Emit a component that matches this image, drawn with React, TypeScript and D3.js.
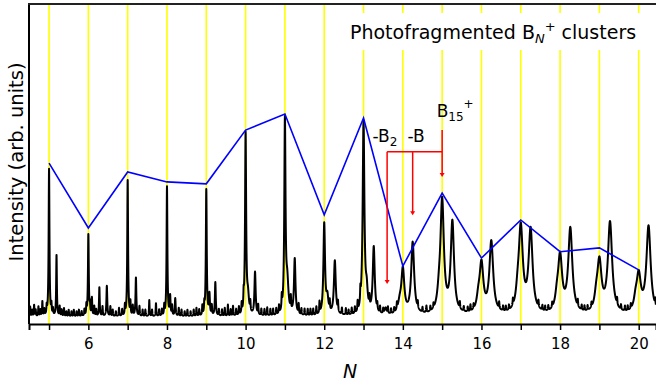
import React, { useRef, useEffect } from "react";
import * as d3 from "d3";

// cluster size axis
const clusterSizes = [5, 6, 7, 8, 9, 10, 11, 12, 13, 14, 15, 16, 17, 18, 19, 20];
const tickLabels = [6, 8, 10, 12, 14, 16, 18, 20];

// envelope of the photofragmented cluster intensities (blue)
const envelope = [50.3, 30, 47.5, 44.4, 43.8, 60.6, 65.6, 34.1, 64.4, 18.1, 40.9, 20.6, 32.5, 22.6, 23.8, 16.9];

// spectrum peaks: position (N), height above baseline, half width
const peakN = [
  5, 6, 7, 8, 9, 10, 11, 12, 13, 14, 15, 16, 17, 18, 19, 20,
  5.19, 6.09, 6.28, 6.47, 7.21, 8.08, 8.21, 9.08, 9.23, 10.06, 10.24, 11.06, 11.25,
  12.08, 12.27, 13.08, 13.26, 13.56, 14.25, 15.26, 16.25, 17.25, 18.26, 19.27, 20.25,
  13.92, 14.92, 15.92, 16.92, 17.92, 18.92, 19.92,
];
const peakH = [
  46, 25.5, 42.5, 40.5, 39.5, 56.5, 60, 28.5, 60, 13.8, 35, 15.2, 26.5, 17.4, 15.8, 11.6,
  19, 5.5, 9, 9.5, 12, 6, 5.5, 6.5, 10.5, 5.5, 13.5, 9.5, 17.5,
  5, 17, 6, 21, 2, 22.5, 28.5, 22.5, 26, 26.5, 28.5, 27.5,
  3, 4, 3.5, 4, 3.5, 3.5, 3,
];
const peakW = [
  0.012, 0.012, 0.012, 0.012, 0.013, 0.016, 0.018, 0.024, 0.026, 0.045, 0.052, 0.058, 0.062, 0.062, 0.065, 0.065,
  0.01, 0.01, 0.01, 0.012, 0.012, 0.012, 0.012, 0.014, 0.013, 0.03, 0.018, 0.035, 0.022,
  0.03, 0.028, 0.03, 0.03, 0.03, 0.045, 0.05, 0.058, 0.06, 0.062, 0.065, 0.065,
  0.05, 0.05, 0.05, 0.05, 0.05, 0.05, 0.05,
];

// baseline noise spikes: position, height
const noiseN = [
  4.52, 4.57, 4.62, 4.66, 4.73, 4.78, 4.83, 4.88, 4.94, 5.06, 5.1, 5.27, 5.32, 5.38, 5.44, 5.5, 5.57, 5.63,
  5.7, 5.76, 5.83, 5.9, 5.95, 6.04, 6.15, 6.2, 6.36, 6.56, 6.62, 6.7, 6.78, 6.86, 6.93, 7.07, 7.13, 7.3,
  7.38, 7.45, 7.55, 7.62, 7.72, 7.8, 7.87, 7.93, 8.13, 8.3, 8.37, 8.45, 8.52, 8.6, 8.68, 8.75, 8.82, 8.9,
  8.95, 9.14, 9.32, 9.4, 9.47, 9.55, 9.62, 9.68, 9.76, 9.83, 9.9, 9.95, 10.12, 10.32, 10.4, 10.48, 10.55,
  10.63, 10.7, 10.78, 10.85, 10.92, 11.15, 11.35, 11.42, 11.5, 11.58, 11.65, 11.72, 11.8, 11.88, 12.14,
  12.35, 12.45, 12.55, 12.62, 12.7, 12.78, 12.85, 12.92, 13.15, 13.35, 13.42, 13.5, 13.62, 13.7, 13.78,
  13.85, 14.38, 14.5, 14.6, 14.7, 14.78, 15.45, 15.55, 15.65, 15.72, 15.8, 16.45, 16.55, 16.62, 16.7,
  16.8, 17.45, 17.55, 17.62, 17.7, 17.8, 18.45, 18.55, 18.62, 18.7, 18.8, 19.45, 19.55, 19.65, 19.72,
  19.8, 20.42,
];
const noiseH = [
  3, 2, 3.5, 2, 3, 2, 4.5, 2, 2.5, 3, 2, 3, 2, 2.5, 1.5, 2, 1.5, 2,
  1.5, 2, 1.5, 2, 3, 3, 3, 2, 3, 3, 2, 1.5, 2.5, 2, 3, 4, 3, 3,
  2, 2, 5, 2, 4, 2, 2, 3, 3, 2.5, 2, 1.5, 2, 1.5, 2, 2.5, 2, 3,
  3, 3, 2, 2, 2.5, 3.5, 2, 3, 2, 2.5, 3, 4, 3, 3, 2, 2, 2.5,
  2, 2, 2, 2.5, 4, 4, 3, 2, 2, 2, 2, 2, 2.5, 3.5, 3,
  3, 2, 2, 1.5, 2, 2, 3, 4, 3, 2, 2, 1.5, 2, 1.5, 1.5,
  2, 2, 1.5, 2, 1.5, 1.5, 2, 1.5, 1.5, 2, 1.5, 2, 1.5, 1.5, 1.5,
  2, 2, 1.5, 1.5, 1.5, 1.5, 2, 1.5, 1.5, 1.5, 1.5, 2, 1.5, 1.5, 1.5,
  1.5, 2,
];
const baseline = 2.3;

// fragmentation annotation (B15+ -> -B2, -B)
const parentN = 15;
const fragmentN = [13.6, 14.25];
const fragmentTip = [12.5, 34];
const bracketLevel = 53.8;
const parentTop = 60.6;
const parentTip = 45.9;

const W = 656;
const H = 388;
const FONT = "'DejaVu Sans', Verdana, sans-serif";

const Chart = () => {
  const svgRef = useRef(null);

  useEffect(() => {
    const svg = d3.select(svgRef.current);
    svg.selectAll("*").remove();

    const x = d3.scaleLinear().domain([4.49, 20.44]).range([29, 656]);
    const y = d3.scaleLinear().domain([0, 100]).range([324, 4]);

    // yellow guide lines
    svg
      .append("g")
      .selectAll("line")
      .data(clusterSizes)
      .enter()
      .append("line")
      .attr("x1", (d) => x(d))
      .attr("x2", (d) => x(d))
      .attr("y1", y(100))
      .attr("y2", y(0))
      .attr("stroke", "#ffff00")
      .attr("stroke-width", 1.6);

    // spectrum
    const grid = d3.range(4.49, 20.44, 0.002);
    const spectrum = grid.map((n) => {
      let v = baseline;
      for (let i = 0; i < peakN.length; i++) {
        const dx = n - peakN[i];
        const w = peakW[i];
        v += (peakH[i] * w * w) / (dx * dx + w * w);
      }
      for (let i = 0; i < noiseN.length; i++) {
        const dx = n - noiseN[i];
        const w = 0.008;
        v += (noiseH[i] * w * w) / (dx * dx + w * w);
      }
      return [n, v];
    });

    const line = d3
      .line()
      .x((d) => x(d[0]))
      .y((d) => y(d[1]));

    svg
      .append("path")
      .datum(spectrum)
      .attr("d", line)
      .attr("fill", "none")
      .attr("stroke", "#000")
      .attr("stroke-width", 2)
      .attr("stroke-linejoin", "round");

    // envelope
    svg
      .append("path")
      .datum(clusterSizes.map((n, i) => [n, envelope[i]]))
      .attr("d", line)
      .attr("fill", "none")
      .attr("stroke", "#0000ff")
      .attr("stroke-width", 1.6);

    // title box
    svg
      .append("rect")
      .attr("x", 340)
      .attr("y", 13)
      .attr("width", 316)
      .attr("height", 37)
      .attr("fill", "#fff");

    const title = svg
      .append("text")
      .attr("x", 350)
      .attr("y", 39)
      .attr("font-family", FONT)
      .attr("font-size", 19)
      .attr("fill", "#000");
    title.append("tspan").text("Photofragmented B");
    title
      .append("tspan")
      .attr("font-size", 13)
      .attr("font-style", "italic")
      .attr("dy", 4)
      .text("N");
    title
      .append("tspan")
      .attr("font-size", 13)
      .attr("dy", -12)
      .text("+");
    title.append("tspan").attr("dy", 8).text(" clusters");

    // red fragmentation bracket
    const red = svg.append("g").attr("stroke", "#ff0000").attr("stroke-width", 1.5).attr("fill", "none");
    red
      .append("line")
      .attr("x1", x(parentN))
      .attr("x2", x(parentN))
      .attr("y1", y(parentTop))
      .attr("y2", y(parentTip) - 3);
    red
      .append("line")
      .attr("x1", x(fragmentN[0]))
      .attr("x2", x(parentN))
      .attr("y1", y(bracketLevel))
      .attr("y2", y(bracketLevel));
    fragmentN.forEach((n, i) => {
      red
        .append("line")
        .attr("x1", x(n))
        .attr("x2", x(n))
        .attr("y1", y(bracketLevel))
        .attr("y2", y(fragmentTip[i]) - 3);
    });
    const heads = [parentN, ...fragmentN];
    const tips = [parentTip, ...fragmentTip];
    svg
      .append("g")
      .selectAll("path")
      .data(heads)
      .enter()
      .append("path")
      .attr("d", (n, i) => {
        const px = x(n);
        const py = y(tips[i]);
        return `M${px - 2.5},${py - 4}L${px + 2.5},${py - 4}L${px},${py}Z`;
      })
      .attr("fill", "#ff0000");

    const label = (n, v, main, sub, sup) => {
      const t = svg
        .append("text")
        .attr("x", x(n))
        .attr("y", y(v))
        .attr("font-family", FONT)
        .attr("font-size", 17)
        .attr("fill", "#000");
      t.append("tspan").text(main);
      if (sub) t.append("tspan").attr("font-size", 12).attr("dy", 4).text(sub);
      if (sup) t.append("tspan").attr("font-size", 12).attr("dy", -13).text(sup);
    };
    label(13.23, 56.9, "-B", "2", null);
    label(14.12, 56.9, "-B", null, null);
    label(14.86, 64.7, "B", "15", "+");

    // axes
    const xAxis = d3
      .axisBottom(x)
      .tickValues(clusterSizes)
      .tickSize(6)
      .tickFormat((d) => (tickLabels.includes(d) ? String(d) : ""));
    const gx = svg.append("g").attr("transform", `translate(0, ${y(0)})`).call(xAxis);
    gx.select(".domain").attr("stroke-width", 2);
    gx.selectAll(".tick line").attr("stroke-width", 1.5);
    gx.selectAll(".tick text")
      .attr("font-family", FONT)
      .attr("font-size", 15)
      .attr("dy", "1.05em");

    svg
      .append("line")
      .attr("x1", x.range()[0])
      .attr("x2", x.range()[0])
      .attr("y1", y(100))
      .attr("y2", y(0))
      .attr("stroke", "#000")
      .attr("stroke-width", 2);
    svg
      .append("line")
      .attr("x1", x.range()[0] - 1)
      .attr("x2", W)
      .attr("y1", y(100))
      .attr("y2", y(100))
      .attr("stroke", "#222")
      .attr("stroke-width", 2);

    svg
      .append("text")
      .attr("x", 350)
      .attr("y", 378)
      .attr("text-anchor", "middle")
      .attr("font-family", FONT)
      .attr("font-size", 19)
      .attr("font-style", "italic")
      .text("N");

    svg
      .append("text")
      .attr("transform", "translate(23, 162) rotate(-90)")
      .attr("text-anchor", "middle")
      .attr("font-family", FONT)
      .attr("font-size", 19.5)
      .text("Intensity (arb. units)");
  }, []);

  return <svg ref={svgRef} width={W} height={H} style={{ display: "block" }}></svg>;
};

export default function App() {
  return (
    <div style={{ position: "absolute", left: 0, top: 0 }}>
      <Chart />
    </div>
  );
}
